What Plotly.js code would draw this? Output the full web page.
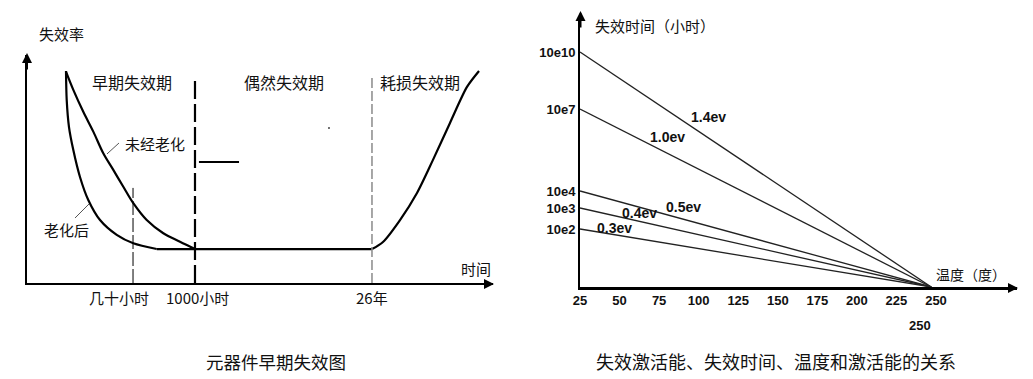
<!DOCTYPE html>
<html>
<head>
<meta charset="utf-8">
<script src="https://cdn.plot.ly/plotly-3.0.1.min.js"></script>
<style>
html,body{margin:0;padding:0;background:#fff;}
#chart{width:1033px;height:379px;}
</style>
</head>
<body>
<div id="chart"></div>
<script>
// ---------- Left chart: 元器件早期失效图 (schematic units 0-100) ----------
const unagedX = [8.37, 9.94, 12.08, 14.23, 16.37, 18.52, 20.67, 22.81, 25.69, 29.25, 32.83, 36.05];
const unagedY = [92.7, 84.7, 75.1, 66.4, 56.9, 49.6, 42.2, 35.0, 27.6, 21.8, 18.1, 14.9];
const agedX = [8.37, 8.52, 9.01, 9.94, 11.37, 13.15, 15.67, 19.25, 22.81, 27.83];
const agedY = [93.0, 80.3, 68.4, 58.3, 46.5, 36.4, 27.6, 21.1, 17.4, 14.9];
const flatX = [27.83, 74.03];
const flatY = [14.9, 14.9];
const wearX = [74.03, 76.39, 80.04, 83.69, 87.12, 90.77, 94.42, 97.0];
const wearY = [14.9, 18.0, 27.6, 39.5, 54.0, 70.2, 86.0, 93.0];
const timeMarks = [22.75, 36.05, 74.03];
const timeMarkLabels = ["几十小时", "1000小时", "26年"];
const phaseNames = ["早期失效期", "偶然失效期", "耗损失效期"];
const curveNames = ["未经老化", "老化后"];

// ---------- Right chart: 失效激活能、失效时间、温度和激活能的关系 ----------
const evLabels = ["1.4ev", "1.0ev", "0.5ev", "0.4ev", "0.3ev"];
const lifeAtStart = [235, 178, 96, 79, 58];          // schematic position on 失效时间 axis at 25°
const lifeTickText = ["10e10", "10e7", "10e4", "10e3", "10e2"];
const tempStart = 25;
const tempEnd = 247;
const tempTicks = [25, 50, 75, 100, 125, 150, 175, 200, 225, 250];

const CJK = '"Noto Sans CJK SC", "Noto Sans", sans-serif';
const NUM = '"Liberation Sans", Arial, sans-serif';

const traces = [];
const blk = {color: '#000', width: 2.2};

traces.push({x: unagedX, y: unagedY, mode: 'lines', line: Object.assign({shape: 'spline', smoothing: 1}, blk), xaxis: 'x', yaxis: 'y'});
traces.push({x: agedX, y: agedY, mode: 'lines', line: Object.assign({shape: 'spline', smoothing: 0.8}, blk), xaxis: 'x', yaxis: 'y'});
traces.push({x: flatX, y: flatY, mode: 'lines', line: blk, xaxis: 'x', yaxis: 'y'});
traces.push({x: wearX, y: wearY, mode: 'lines', line: Object.assign({shape: 'spline', smoothing: 0.8}, blk), xaxis: 'x', yaxis: 'y'});

// phase boundary lines
traces.push({x: [timeMarks[0], timeMarks[0]], y: [0, 41.7], mode: 'lines', line: {color: '#000', width: 1, dash: '14px,3px'}, xaxis: 'x', yaxis: 'y'});
traces.push({x: [timeMarks[1], timeMarks[1]], y: [0, 90.8], mode: 'lines', line: {color: '#000', width: 2.2, dash: '18px,5px'}, xaxis: 'x', yaxis: 'y'});
traces.push({x: [timeMarks[2], timeMarks[2]], y: [0, 90.8], mode: 'lines', line: {color: '#8a8a8a', width: 1.5, dash: '10px,3px'}, xaxis: 'x', yaxis: 'y'});
// short horizontal stroke and leader lines
traces.push({x: [36.9, 45.5], y: [53.1, 53.1], mode: 'lines', line: {color: '#000', width: 2}, xaxis: 'x', yaxis: 'y'});
traces.push({x: [19.74, 17.17], y: [61.4, 56.6], mode: 'lines', line: {color: '#555', width: 1}, xaxis: 'x', yaxis: 'y'});
traces.push({x: [13.3, 10.3], y: [34.65, 28.5], mode: 'lines', line: {color: '#555', width: 1}, xaxis: 'x', yaxis: 'y'});
traces.push({x: [64.8], y: [68.0], mode: 'markers', marker: {color: '#444', size: 2}, xaxis: 'x', yaxis: 'y'});

// right chart lines
evLabels.forEach((lab, i) => {
  traces.push({x: [tempStart, tempEnd], y: [lifeAtStart[i], 0], mode: 'lines', name: lab,
    line: {color: '#222', width: 1.3}, xaxis: 'x2', yaxis: 'y2'});
});

const W = 1033, H = 379;
const px = v => v / W;
const py = v => 1 - v / H;

const annotations = [];
function txt(text, x, y, size, ref, extra) {
  annotations.push(Object.assign({text: text, x: x, y: y, xref: ref[0], yref: ref[1], showarrow: false,
    font: {family: CJK, size: size, color: '#111'}, xanchor: 'center', yanchor: 'middle'}, extra || {}));
}
// left chart texts
txt(phaseNames[0], 22.53, 88.2, 16, ['x', 'y']);
txt(phaseNames[1], 55.15, 88.2, 16, ['x', 'y']);
txt(phaseNames[2], 84.33, 88.2, 16, ['x', 'y']);
txt(curveNames[0], 27.47, 61.0, 15, ['x', 'y']);
txt(curveNames[1], 8.58, 23.3, 15, ['x', 'y']);
txt('失效率', px(61), py(33), 15, ['paper', 'paper']);
txt('时间', px(476), py(268), 15, ['paper', 'paper']);
// time-mark labels (placed under the axis, slightly offset as in the original)
const markLabelShift = [-3.0, 0.6, 0];
timeMarkLabels.forEach((lab, i) => {
  txt(lab, timeMarks[i] + markLabelShift[i], py(297), 15, ['x', 'paper']);
});
txt('元器件早期失效图', px(276), py(361), 17.5, ['paper', 'paper']);

// right chart texts
txt('失效时间（小时）', px(593), py(25), 15, ['paper', 'paper'], {xanchor: 'left'});
txt('温度（度）', px(971), py(274), 14, ['paper', 'paper']);
txt('250', px(920), py(325), 13, ['paper', 'paper'], {font: {family: NUM, size: 13, color: '#111', weight: 'bold'}});
txt('失效激活能、失效时间、温度和激活能的关系', px(776), py(361), 18, ['paper', 'paper']);
const evPos = [[106.5, 170], [80.0, 150], [90.1, 80], [62.9, 74], [46.5, 59]];
evLabels.forEach((lab, i) => {
  annotations.push({text: lab, x: evPos[i][0], y: evPos[i][1], xref: 'x2', yref: 'y2', showarrow: false,
    font: {family: NUM, size: 14, color: '#111', weight: 'bold'}, xanchor: 'center', yanchor: 'middle'});
});

// axis arrowheads
function arrow(x, y, ax, ay) {
  annotations.push({x: x, y: y, xref: 'paper', yref: 'paper', ax: ax, ay: ay, text: '', showarrow: true,
    arrowhead: 2, arrowsize: 1, arrowwidth: 2, arrowcolor: '#000'});
}
arrow(px(27), py(53), 0, 18);
arrow(px(494), py(284), -18, 0);
arrow(px(580.5), py(11), 0, 18);
arrow(px(1018), py(288), -18, 0);

const baseAxis = {showgrid: false, zeroline: false, showline: true, linecolor: '#000', linewidth: 2,
  ticks: '', fixedrange: true};

const layout = {
  width: W, height: H,
  margin: {l: 0, r: 0, t: 0, b: 0},
  paper_bgcolor: '#fff', plot_bgcolor: 'rgba(0,0,0,0)',
  showlegend: false,
  font: {family: CJK, color: '#111'},
  xaxis: Object.assign({}, baseAxis, {domain: [px(27), px(493)], range: [0, 100], anchor: 'y',
    showticklabels: false}),
  yaxis: Object.assign({}, baseAxis, {domain: [py(283), py(55)], range: [0, 100], anchor: 'x', showticklabels: false}),
  xaxis2: Object.assign({}, baseAxis, {domain: [px(580), px(1017)], range: [25, 301.2], anchor: 'y2', linewidth: 2.5,
    tickmode: 'array', tickvals: tempTicks, ticktext: tempTicks.map(String), tickangle: 0,
    tickfont: {family: NUM, size: 13, color: '#111', weight: 'bold'}}),
  yaxis2: Object.assign({}, baseAxis, {domain: [py(287), py(17)], range: [0, 270], anchor: 'x2',
    tickmode: 'array', tickvals: lifeAtStart, ticktext: lifeTickText,
    tickfont: {family: NUM, size: 13, color: '#111', weight: 'bold'}}),
  annotations: annotations
};

Plotly.newPlot('chart', traces, layout, {staticPlot: true, displayModeBar: false});
</script>
</body>
</html>
